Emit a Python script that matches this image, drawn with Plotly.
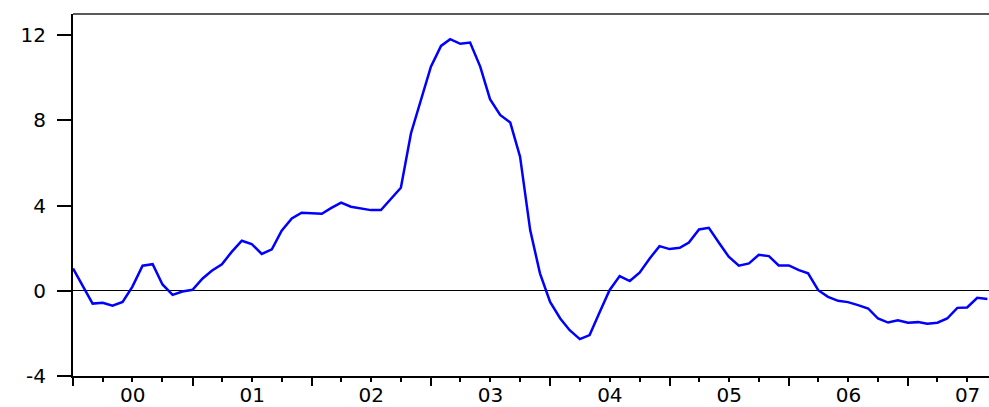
import pandas as pd
import plotly.graph_objects as go

# Monthly observations, 2000M01 - 2007M09
start_month = "2000-01-01"
values = [
    1.05, 0.20, -0.60, -0.56, -0.70, -0.52, 0.20, 1.18, 1.25, 0.30, -0.19, -0.03,
    0.05, 0.58, 0.94, 1.25, 1.83, 2.35, 2.20, 1.73, 1.95, 2.82, 3.40, 3.67,
    3.66, 3.62, 3.88, 4.14, 3.95, 3.87, 3.79, 3.79, 4.30, 4.84, 7.40, 8.97,
    10.53, 11.50, 11.82, 11.60, 11.66, 10.53, 9.00, 8.26, 7.90, 6.30, 2.85, 0.82,
    -0.52, -1.30, -1.85, -2.27, -2.08, -0.99, 0.03, 0.69, 0.46, 0.85, 1.52, 2.10,
    1.96, 2.02, 2.27, 2.88, 2.96, 2.26, 1.60, 1.18, 1.29, 1.69, 1.63, 1.19,
    1.19, 0.97, 0.82, 0.03, -0.28, -0.47, -0.53, -0.67, -0.83, -1.30, -1.49, -1.38,
    -1.50, -1.47, -1.55, -1.50, -1.30, -0.80, -0.78, -0.33, -0.38,
]
dates = pd.date_range(start_month, periods=len(values), freq="MS")

y_ticks = [-4, 0, 4, 8, 12]

fig = go.Figure(
    go.Scatter(
        x=dates,
        y=values,
        mode="lines",
        line=dict(color="#0000FF", width=2.5),
        showlegend=False,
        hoverinfo="skip",
    )
)

axis_font = dict(family="DejaVu Sans, Liberation Sans, sans-serif", color="black")

fig.update_layout(
    width=989,
    height=407,
    margin=dict(l=73, r=0, t=14, b=31),
    paper_bgcolor="white",
    plot_bgcolor="white",
    xaxis=dict(
        type="date",
        range=["2000-01-01", "2007-09-06"],
        tick0="2000-01-01",
        dtick="M12",
        tickformat="%y",
        ticklabelmode="period",
        ticks="outside",
        ticklen=8,
        tickwidth=2,
        tickcolor="black",
        showline=True,
        linecolor="black",
        linewidth=2,
        showgrid=False,
        zeroline=False,
        automargin=False,
        tickfont=dict(size=20, **axis_font),
        ticklabelstandoff=-8,
        minor=dict(dtick="M3", ticks="outside", ticklen=4, tickwidth=2,
                   tickcolor="black", showgrid=False),
    ),
    yaxis=dict(
        range=[-4, 13.0],
        tickvals=y_ticks,
        ticktext=[str(v) for v in y_ticks],
        ticks="outside",
        ticklen=14,
        tickwidth=1.5,
        tickcolor="black",
        showline=True,
        linecolor="black",
        linewidth=2,
        showgrid=False,
        zeroline=True,
        zerolinecolor="black",
        zerolinewidth=1,
        automargin=False,
        tickfont=dict(size=20, **axis_font),
        ticklabelstandoff=7,
    ),
)

# frame line along the top of the plotting area
fig.add_shape(
    type="line", xref="paper", yref="paper",
    x0=0, x1=1, y0=1, y1=1,
    line=dict(color="#222222", width=1.5),
)

fig.write_html("out.html")
